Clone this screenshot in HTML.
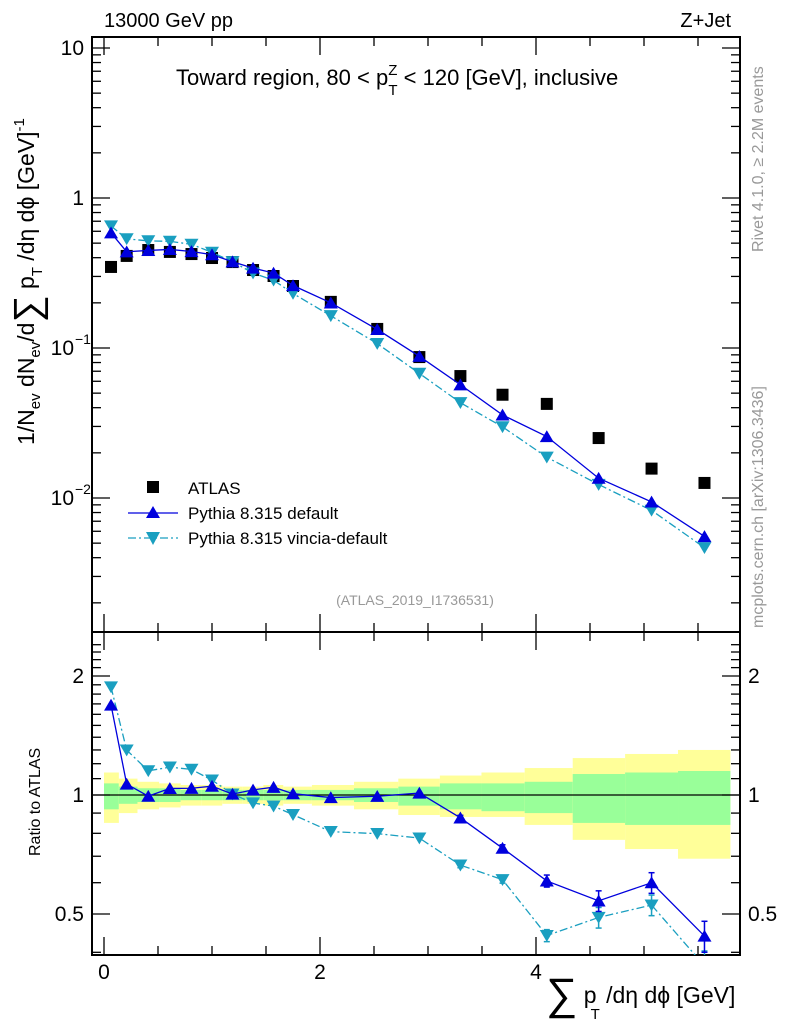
<!DOCTYPE html>
<html><head><meta charset="utf-8"><style>
html,body{margin:0;padding:0;background:#fff;}
svg{display:block;font-family:"Liberation Sans",sans-serif;}
</style></head><body>
<svg id="c" width="786" height="1024" viewBox="0 0 786 1024"></svg>
<script>
const xs=[0.065,0.21,0.41,0.61,0.81,1.0,1.19,1.38,1.57,1.75,2.1,2.53,2.92,3.30,3.69,4.10,4.58,5.07,5.56];
const atlas=[0.347,0.411,0.45,0.437,0.423,0.398,0.374,0.331,0.302,0.259,0.203,0.134,0.087,0.065,0.0488,0.0424,0.0251,0.0157,0.0126];
const pyDef=[0.586,0.438,0.447,0.454,0.44,0.419,0.376,0.341,0.316,0.261,0.2,0.133,0.088,0.0569,0.0358,0.0257,0.01355,0.00942,0.00554];
const pyVin=[0.651,0.534,0.518,0.514,0.491,0.434,0.376,0.316,0.283,0.231,0.164,0.107,0.0677,0.0432,0.0298,0.0187,0.0123,0.00827,0.00466];
const relErr=[0.005,0.005,0.005,0.005,0.005,0.005,0.005,0.005,0.005,0.005,0.005,0.008,0.01,0.015,0.02,0.035,0.06,0.06,0.09];
const yUp=[1.14,1.10,1.08,1.07,1.06,1.06,1.05,1.05,1.06,1.05,1.06,1.08,1.10,1.12,1.14,1.17,1.24,1.27,1.30];
const yDn=[0.85,0.90,0.92,0.93,0.94,0.94,0.95,0.95,0.94,0.95,0.94,0.92,0.89,0.88,0.88,0.84,0.77,0.73,0.69];
const gUp=[1.07,1.05,1.04,1.04,1.03,1.03,1.03,1.03,1.03,1.03,1.03,1.04,1.05,1.07,1.07,1.08,1.13,1.14,1.15];
const gDn=[0.92,0.95,0.96,0.96,0.97,0.97,0.97,0.97,0.97,0.97,0.97,0.96,0.94,0.92,0.91,0.90,0.85,0.84,0.84];
const xTicks=[0,2,4];

const NS="http://www.w3.org/2000/svg", svg=document.getElementById('c');
const L=92,R=740,T1=37,B1=632,B2=955;
const X=v=>104+v*108;
const Y=v=>198-150*Math.log10(v);
const RY=v=>795-119*Math.log2(v);
function el(t,a,p){const e=document.createElementNS(NS,t);for(const k in a)e.setAttribute(k,a[k]);(p||svg).appendChild(e);return e;}
function txt(s,x,y,a,p){const e=el('text',Object.assign({x:x,y:y,'font-size':20},a||{}),p);e.textContent=s;return e;}

const edges=[0];for(let i=0;i<xs.length-1;i++)edges.push((xs[i]+xs[i+1])/2);edges.push(5.8);

const bands=el('g',{});


for(let i=0;i<xs.length;i++){
  const x0=X(edges[i]),x1=X(edges[i+1]);
  const r1=el('rect',{x:x0,y:RY(yUp[i]),width:x1-x0,height:RY(yDn[i])-RY(yUp[i]),fill:'#ffff99'},bands);
  
  const r2=el('rect',{x:x0,y:RY(gUp[i]),width:x1-x0,height:RY(gDn[i])-RY(gUp[i]),fill:'#99ff99'},bands);
  
}
el('line',{x1:L,x2:R,y1:RY(1),y2:RY(1),stroke:'#000','stroke-width':1.3});

el('rect',{x:L,y:T1,width:R-L,height:B1-T1,fill:'none',stroke:'#000','stroke-width':2});
el('rect',{x:L,y:B1,width:R-L,height:B2-B1,fill:'none',stroke:'#000','stroke-width':2});

for(let v=0;v<=6.01;v+=0.5){const px=X(v);if(px>R)break;const maj=Math.abs(v-Math.round(v/2)*2)<1e-6;const h=maj?18:9;
 for(const [a,b] of [[T1,B1],[B1,B2]]){el('line',{x1:px,x2:px,y1:b,y2:b-h,stroke:'#000','stroke-width':1.3});el('line',{x1:px,x2:px,y1:a,y2:a+h,stroke:'#000','stroke-width':1.3});}}
xTicks.forEach(v=>{const t=txt(String(v),X(v),979,{'text-anchor':'middle','font-size':21});});

for(let d=-3;d<=1;d++)for(let m=1;m<=9;m++){const v=m*Math.pow(10,d);const py=Y(v);if(py<T1||py>B1)continue;const h=m==1?18:9;
 el('line',{x1:L,x2:L+h,y1:py,y2:py,stroke:'#000','stroke-width':1.3});el('line',{x1:R,x2:R-h,y1:py,y2:py,stroke:'#000','stroke-width':1.3});}
txt('10',84,55,{'text-anchor':'end','font-size':21});txt('1',84,205,{'text-anchor':'end','font-size':21});
txt('10',74,355,{'text-anchor':'end','font-size':21});txt('−1',75,344,{'font-size':14});
txt('10',74,505,{'text-anchor':'end','font-size':21});txt('−2',75,494,{'font-size':14});

for(let v=0.4;v<=2.5;v+=0.1){const py=RY(v);if(py<B1||py>B2)continue;const maj=[0.5,1,2].some(m=>Math.abs(m-v)<1e-6);const h=maj?18:9;
 el('line',{x1:L,x2:L+h,y1:py,y2:py,stroke:'#000','stroke-width':1.3});el('line',{x1:R,x2:R-h,y1:py,y2:py,stroke:'#000','stroke-width':1.3});}
[[2,'2'],[1,'1'],[0.5,'0.5']].forEach(([v,s])=>{txt(s,84,RY(v)+7,{'text-anchor':'end','font-size':21});txt(s,748,RY(v)+7,{'font-size':21});});

function series(vals,color,dash,up,ratio,name,parent){
  const g=el('g',{},parent);
  const yv=ratio?(i=>vals[i]/atlas[i]):(i=>vals[i]);
  const yf=ratio?(i=>RY(yv(i))):(i=>Y(yv(i)));
  el('polyline',{points:xs.map((x,i)=>X(x)+','+yf(i)).join(' '),fill:'none',stroke:color,'stroke-width':1.3,'stroke-dasharray':dash||''},g);
  xs.forEach((x,i)=>{const cx=X(x),cy=yf(i);const s=7;
    if(ratio&&relErr[i]>0.01){const sc=RY;const a=sc(yv(i)*(1+relErr[i])),b=sc(yv(i)*(1-relErr[i]));
      el('line',{x1:cx,x2:cx,y1:a,y2:b,stroke:color,'stroke-width':1.5},g);
      el('line',{x1:cx-3,x2:cx+3,y1:a,y2:a,stroke:color,'stroke-width':1.5},g);
      el('line',{x1:cx-3,x2:cx+3,y1:b,y2:b,stroke:color,'stroke-width':1.5},g);}
    const pts=up?`${cx-s},${cy+s*0.8} ${cx+s},${cy+s*0.8} ${cx},${cy-s*0.9}`:`${cx-s},${cy-s*0.8} ${cx+s},${cy-s*0.8} ${cx},${cy+s*0.9}`;
    const m=el('polygon',{points:pts,fill:color},g);});
}
const clip=el('clipPath',{id:'rc'});el('rect',{x:L,y:B1,width:R-L,height:B2-B1},clip);
const ag=el('g',{});
xs.forEach((x,i)=>{el('rect',{x:X(x)-6,y:Y(atlas[i])-6,width:12,height:12,fill:'#000'},ag);});
series(pyVin,'#1a9fc0','8,3,2,3',false,false,'vincia-main');
series(pyDef,'#0000dd','',true,false,'default-main');
const rg=el('g',{'clip-path':'url(#rc)'});


series(pyVin,'#1a9fc0','8,3,2,3',false,true,'vincia-ratio',rg);
series(pyDef,'#0000dd','',true,true,'default-ratio',rg);

const lg=el('g',{});
el('rect',{x:147,y:481,width:12,height:12,fill:'#000'},lg);txt('ATLAS',188,494,{'font-size':17},lg);
el('line',{x1:128,x2:178,y1:513,y2:513,stroke:'#0000dd','stroke-width':1.3},lg);el('polygon',{points:'146,518 160,518 153,506',fill:'#0000dd'},lg);
txt('Pythia 8.315 default',188,519,{'font-size':17},lg);
el('line',{x1:128,x2:178,y1:538,y2:538,stroke:'#1a9fc0','stroke-width':1.3,'stroke-dasharray':'8,3,2,3'},lg);el('polygon',{points:'146,532 160,532 153,545',fill:'#1a9fc0'},lg);
txt('Pythia 8.315 vincia-default',188,544,{'font-size':17},lg);

txt('13000 GeV pp',104,27,{'font-size':20});
txt('Z+Jet',731,27,{'font-size':20,'text-anchor':'end'});
const tt=txt('',176,85,{'font-size':22});
tt.innerHTML='Toward region, 80 &lt; p<tspan dy="-10" font-size="15">Z</tspan><tspan dx="-9" dy="20" font-size="15">T</tspan><tspan dy="-10"> &lt; 120 [GeV], inclusive</tspan>';
txt('(ATLAS_2019_I1736531)',415,605,{'font-size':14,fill:'#999','text-anchor':'middle'});
const rv=txt('Rivet 4.1.0, ≥ 2.2M events',0,0,{'font-size':16,fill:'#999',transform:'translate(763,252) rotate(-90)'});
const mp=txt('mcplots.cern.ch [arXiv:1306.3436]',0,0,{'font-size':16,fill:'#999',transform:'translate(763,628) rotate(-90)'});
const yl=txt('',0,0,{'font-size':23,transform:'translate(34,445) rotate(-90)'});
yl.innerHTML='1/N<tspan font-size="15" dy="6">ev</tspan><tspan dy="-6"> dN</tspan><tspan font-size="15" dy="6">ev</tspan><tspan dy="-6">/d</tspan><tspan font-size="38" dy="6">∑</tspan><tspan dy="-6"> p</tspan><tspan font-size="15" dy="8">T</tspan><tspan dy="-8"> /dη dϕ  [GeV]</tspan><tspan font-size="15" dy="-10">-1</tspan>';
const rl=txt('Ratio to ATLAS',0,0,{'font-size':16,transform:'translate(40,856) rotate(-90)'});
const xl=txt('',546,1003,{'font-size':23});
xl.innerHTML='<tspan font-size="44" dy="6">∑</tspan><tspan dy="-6"> p</tspan><tspan font-size="15" dy="16" dx="-6">T</tspan><tspan dy="-16"> /dη dϕ [GeV]</tspan>';
</script>
</body></html>
